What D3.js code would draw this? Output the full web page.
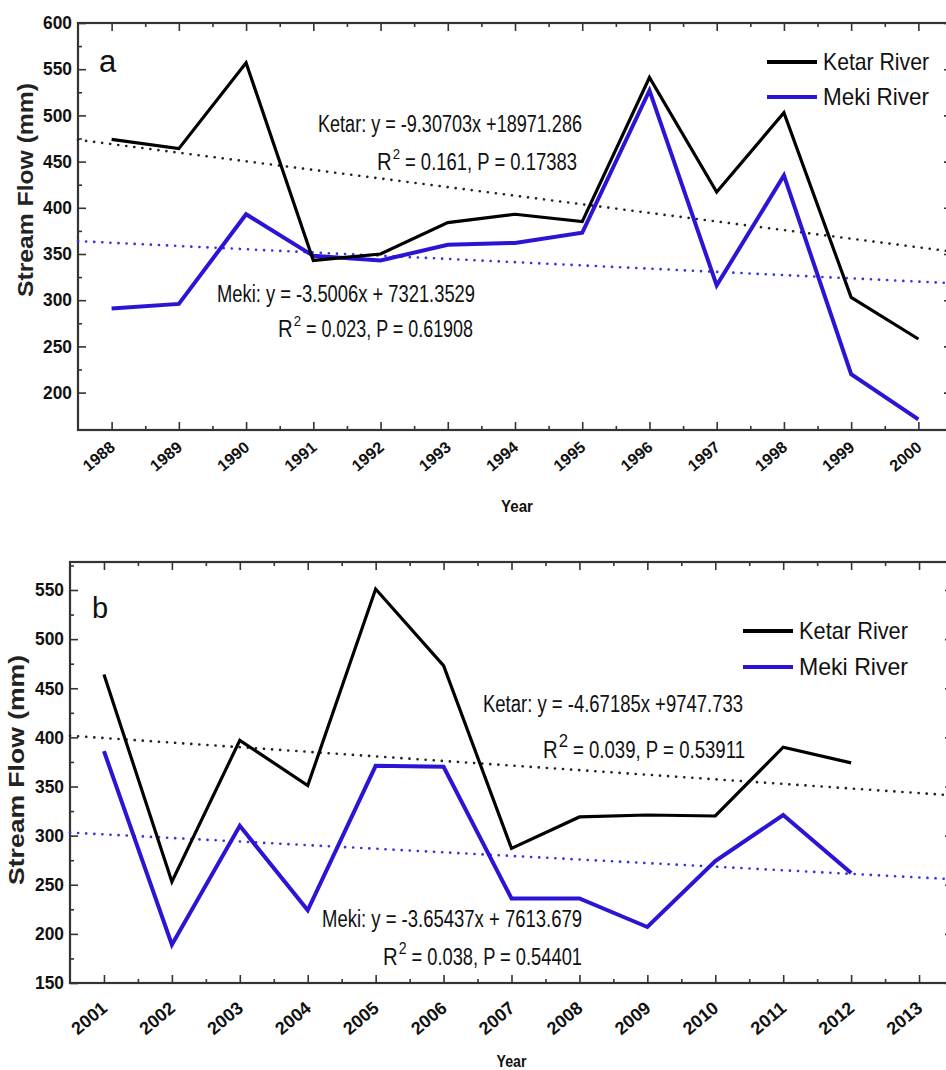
<!DOCTYPE html>
<html>
<head>
<meta charset="utf-8">
<script src="https://cdn.jsdelivr.net/npm/d3@7"></script>
<style>
  body { margin: 0; background: #fff; }
  text { font-family: "Liberation Sans", Arial, sans-serif; }
</style>
</head>
<body>
<svg id="chart" width="946" height="1070"></svg>
<script>
// panel a
const yearsA = [1988, 1989, 1990, 1991, 1992, 1993, 1994, 1995, 1996, 1997, 1998, 1999, 2000];
const ketarA = [474, 464, 557, 343, 350, 384, 393, 385, 541, 417, 503, 303, 258];
const mekiA  = [291, 296, 393, 348, 343, 360, 362, 373, 527, 316, 435, 220, 171];
const yTicksA = [200, 250, 300, 350, 400, 450, 500, 550, 600];
const trendA = [{slope: -9.30703, icpt: 18971.286}, {slope: -3.5006, icpt: 7321.3529}];

// panel b
const yearsB = [2001, 2002, 2003, 2004, 2005, 2006, 2007, 2008, 2009, 2010, 2011, 2012, 2013];
const ketarB = [464, 253, 397, 351, 551, 473, 287, 319, 321, 320, 390, 374];
const mekiB  = [386, 189, 310, 224, 371, 370, 236, 236, 207, 274, 321, 262];
const yTicksB = [150, 200, 250, 300, 350, 400, 450, 500, 550];
const trendB = [{slope: -4.67185, icpt: 9747.733}, {slope: -3.65437, icpt: 7613.679}];

const seriesNames = ["Ketar River", "Meki  River"];
const BLUE = "#2b14d4";
const FRAME = "#333";

const svg = d3.select("#chart");

function panel(p) {
  const x = d3.scaleLinear().domain(p.xDomain).range([p.left, p.right]);
  const y = d3.scaleLinear().domain(p.yDomain).range([p.bottom, p.top]);
  const g = svg.append("g");

  // minor ticks halfway
  const xMinor = p.years.map(d => d + 0.5).filter(d => d < p.xDomain[1]);
  const yMinor = p.yTicks.map(d => d + 25).filter(d => d < p.yDomain[1]);

  function styleAxis(sel) {
    sel.select(".domain").remove();
    sel.selectAll(".tick line").attr("stroke", FRAME).attr("stroke-width", 1.6);
  }

  // left
  g.append("g").attr("transform", `translate(${p.left},0)`)
    .call(d3.axisLeft(y).tickValues(p.yTicks).tickSize(-8).tickPadding(6))
    .call(styleAxis)
    .selectAll("text").attr("font-size", 18).attr("font-weight", "bold").attr("fill", "#111")
    .attr("textLength", 29).attr("lengthAdjust", "spacingAndGlyphs");
  g.append("g").attr("transform", `translate(${p.left},0)`)
    .call(d3.axisLeft(y).tickValues(yMinor).tickSize(-4).tickFormat(""))
    .call(styleAxis);
  // right
  g.append("g").attr("transform", `translate(${p.right},0)`)
    .call(d3.axisRight(y).tickValues(p.yTicks).tickSize(-8).tickFormat(""))
    .call(styleAxis);
  g.append("g").attr("transform", `translate(${p.right},0)`)
    .call(d3.axisRight(y).tickValues(yMinor).tickSize(-4).tickFormat(""))
    .call(styleAxis);
  // top
  g.append("g").attr("transform", `translate(0,${p.top})`)
    .call(d3.axisTop(x).tickValues(p.years).tickSize(-8).tickFormat(""))
    .call(styleAxis);
  g.append("g").attr("transform", `translate(0,${p.top})`)
    .call(d3.axisTop(x).tickValues(xMinor).tickSize(-4).tickFormat(""))
    .call(styleAxis);
  // bottom
  const bx = g.append("g").attr("transform", `translate(0,${p.bottom})`)
    .call(d3.axisBottom(x).tickValues(p.years).tickSize(-8).tickFormat(d3.format("d")))
    .call(styleAxis);
  bx.selectAll("text")
    .attr("font-size", p.xLabSize).attr("font-weight", "bold").attr("fill", "#111")
    .attr("text-anchor", "end").attr("dy", 0).attr("y", 0)
    .attr("textLength", p.xLabLen).attr("lengthAdjust", "spacingAndGlyphs")
    .attr("transform", `translate(4,${p.xLabDy}) rotate(-40)`);
  g.append("g").attr("transform", `translate(0,${p.bottom})`)
    .call(d3.axisBottom(x).tickValues(xMinor).tickSize(-4).tickFormat(""))
    .call(styleAxis);

  // frame
  g.append("rect")
    .attr("x", p.left).attr("y", p.top)
    .attr("width", p.right - p.left).attr("height", p.bottom - p.top)
    .attr("fill", "none").attr("stroke", FRAME).attr("stroke-width", 2.2);

  // titles
  g.append("text")
    .attr("transform", `translate(${p.yTitleX},${p.yTitleY}) rotate(-90)`)
    .attr("text-anchor", "middle").attr("font-size", 22).attr("font-weight", "bold")
    .attr("fill", "#222")
    .attr("textLength", p.yTitleLen).attr("lengthAdjust", "spacingAndGlyphs")
    .text("Stream Flow (mm)");
  g.append("text")
    .attr("x", (x(p.years[0]) + x(p.years[p.years.length - 1])) / 2 + p.yearShift)
    .attr("y", p.yearY)
    .attr("text-anchor", "middle").attr("font-size", p.yearSize).attr("font-weight", "bold")
    .attr("fill", "#111")
    .attr("textLength", p.yearLen).attr("lengthAdjust", "spacingAndGlyphs")
    .text("Year");

  // trend lines
  p.trends.forEach((t, i) => {
    const pts = p.xDomain.map(d => [x(d), y(t.slope * d + t.icpt)]);
    g.append("path")
      .attr("d", d3.line()(pts))
      .attr("fill", "none")
      .attr("stroke", i === 0 ? "#222" : "#3434dc")
      .attr("stroke-width", 2.6)
      .attr("stroke-linecap", "round")
      .attr("stroke-dasharray", "0.1,8");
  });

  // data lines
  const line = d3.line().x((d, i) => x(p.years[i])).y(d => y(d));
  g.append("path").datum(p.meki)
    .attr("d", line).attr("fill", "none").attr("stroke", BLUE)
    .attr("stroke-width", 4).attr("stroke-linejoin", "miter");
  g.append("path").datum(p.ketar)
    .attr("d", line).attr("fill", "none").attr("stroke", "#000")
    .attr("stroke-width", 3.2).attr("stroke-linejoin", "miter");

  // legend
  seriesNames.forEach((name, i) => {
    const ly = p.legend.y + i * p.legend.gap;
    g.append("line")
      .attr("x1", p.legend.x).attr("x2", p.legend.x + 50)
      .attr("y1", ly).attr("y2", ly)
      .attr("stroke", i === 0 ? "#000" : BLUE).attr("stroke-width", 4);
    g.append("text")
      .attr("x", p.legend.x + 56).attr("y", ly + 8)
      .attr("font-size", 24).attr("fill", "#111")
      .attr("textLength", p.legend.len).attr("lengthAdjust", "spacingAndGlyphs")
      .text(name);
  });

  // panel letter
  g.append("text")
    .attr("x", p.letter.x).attr("y", p.letter.y)
    .attr("font-size", p.letter.size)
    .attr("font-family", p.letter.font)
    .attr("fill", "#111")
    .text(p.letter.t);

  // equations
  p.notes.forEach(n => {
    if (!n.sup) {
      g.append("text")
        .attr("x", n.x).attr("y", n.y)
        .attr("font-size", 23).attr("fill", "#111")
        .attr("textLength", n.len).attr("lengthAdjust", "spacingAndGlyphs")
        .text(n.t);
      return;
    }
    // R, superscript 2, then the rest as separate texts side by side
    const r = g.append("text").attr("x", n.x).attr("y", n.y)
      .attr("font-size", 23).attr("fill", "#111").text("R");
    const rw = r.node().getComputedTextLength() * 0.88;
    r.attr("textLength", rw).attr("lengthAdjust", "spacingAndGlyphs");
    const s = g.append("text").attr("x", n.x + rw + 1).attr("y", n.y - 11)
      .attr("font-size", n.supSize).attr("fill", "#111").text("2");
    const sw = s.node().getComputedTextLength() * 0.88;
    s.attr("textLength", sw).attr("lengthAdjust", "spacingAndGlyphs");
    const restX = n.x + rw + sw + 6;
    g.append("text").attr("x", restX).attr("y", n.y)
      .attr("font-size", 23).attr("fill", "#111")
      .attr("textLength", n.x + n.len - restX).attr("lengthAdjust", "spacingAndGlyphs")
      .text(n.t);
  });
}

panel({
  years: yearsA, ketar: ketarA, meki: mekiA, yTicks: yTicksA, trends: trendA,
  xDomain: [1987.5, 2000.5], yDomain: [159.5, 600],
  left: 78, right: 952, top: 23, bottom: 430,
  xLabSize: 16, xLabLen: 36, xLabDy: 19,
  yTitleX: 33, yTitleY: 190, yTitleLen: 214,
  yearY: 512, yearSize: 17, yearLen: 32, yearShift: 2,
  legend: {x: 767, y: 62, gap: 35, len: 106},
  letter: {x: 99, y: 72, size: 31, font: "'Liberation Serif', 'Times New Roman', serif", t: "a"},
  notes: [
    {x: 318, y: 132, len: 264, t: "Ketar: y = -9.30703x +18971.286"},
    {x: 377, y: 170, len: 200, sup: true, supSize: 15, t: "= 0.161, P = 0.17383"},
    {x: 217, y: 302, len: 258, t: "Meki: y = -3.5006x + 7321.3529"},
    {x: 278, y: 337, len: 195, sup: true, supSize: 15, t: "= 0.023, P = 0.61908"}
  ]
});

panel({
  years: yearsB, ketar: ketarB, meki: mekiB, yTicks: yTicksB, trends: trendB,
  xDomain: [2000.5, 2013.5], yDomain: [150, 578.5],
  left: 70, right: 953, top: 562, bottom: 983,
  xLabSize: 18, xLabLen: 40, xLabDy: 27,
  yTitleX: 24, yTitleY: 770, yTitleLen: 230,
  yearY: 1067, yearSize: 16, yearLen: 30, yearShift: 0,
  legend: {x: 743, y: 631, gap: 36, len: 109},
  letter: {x: 92, y: 618, size: 29, font: "'Liberation Sans', Arial, sans-serif", t: "b"},
  notes: [
    {x: 483, y: 712, len: 260, t: "Ketar: y = -4.67185x +9747.733"},
    {x: 543, y: 758, len: 202, sup: true, supSize: 19, t: "= 0.039, P = 0.53911"},
    {x: 322, y: 927, len: 260, t: "Meki: y = -3.65437x + 7613.679"},
    {x: 383, y: 965, len: 199, sup: true, supSize: 16, t: "= 0.038, P = 0.54401"}
  ]
});
</script>
</body>
</html>
